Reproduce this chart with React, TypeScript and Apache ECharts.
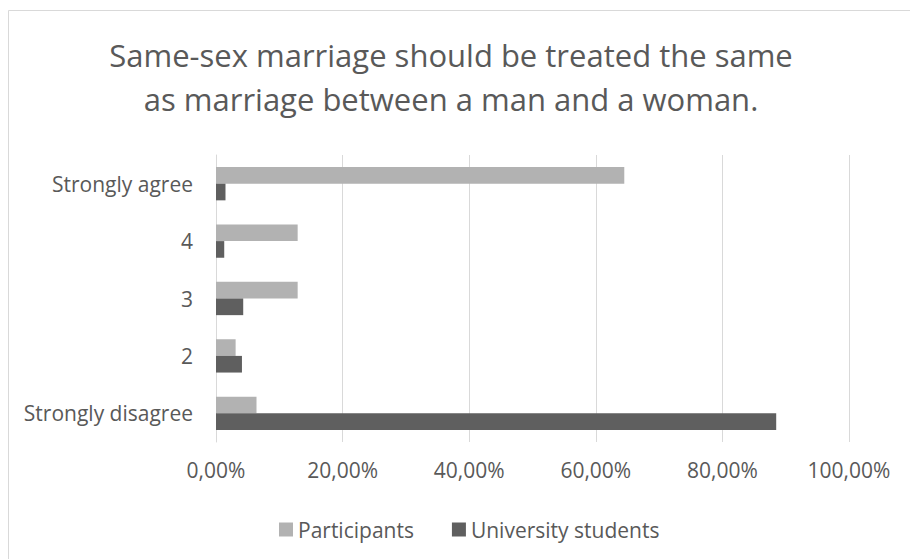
import React, { useEffect, useRef } from "react";
import * as echarts from "echarts";

const titleLines = [
  "Same-sex marriage should be treated the same",
  "as marriage between a man and a woman.",
];
const categories = ["Strongly disagree", "2", "3", "4", "Strongly agree"];
const participants = [6.4, 3.1, 12.9, 12.9, 64.5];
const universityStudents = [88.5, 4.1, 4.3, 1.3, 1.5];
const seriesNames = ["Participants", "University students"];
const xTicks = { min: 0, max: 100, interval: 20 };

const FONT = "'Open Sans', 'Liberation Sans', sans-serif";
const TEXT = "#595959";
const LIGHT = "#b2b2b2";
const DARK = "#5f5f5f";

export default function App() {
  const ref = useRef<HTMLDivElement>(null);
  useEffect(() => {
    if (!ref.current) return;
    const chart = echarts.init(ref.current, undefined, { renderer: "svg" });
    chart.setOption({
      animation: false,
      backgroundColor: "#ffffff",
      textStyle: { fontFamily: FONT },
      graphic: [
        {
          type: "rect",
          shape: { x: 8.5, y: 10.5, width: 1200, height: 1200 },
          style: { fill: "none", stroke: "#d9d9d9", lineWidth: 1 },
          silent: true,
          z: -1,
        },
        {
          type: "text",
          x: 451,
          y: 55,
          style: {
            text: titleLines[0],
            fontFamily: FONT,
            fontSize: 31,
            fill: TEXT,
            textAlign: "center",
            textVerticalAlign: "middle",
          },
        },
        {
          type: "text",
          x: 451,
          y: 99,
          style: {
            text: titleLines[1],
            fontFamily: FONT,
            fontSize: 31,
            fill: TEXT,
            textAlign: "center",
            textVerticalAlign: "middle",
          },
        },
      ],
      legend: {
        data: seriesNames,
        left: 274,
        top: 514,
        itemWidth: 14,
        itemHeight: 14,
        itemGap: 38,
        icon: "rect",
        textStyle: { color: TEXT, fontSize: 21, fontFamily: FONT },
      },
      grid: { left: 216, right: 61, top: 155, bottom: 117, containLabel: false },
      xAxis: {
        type: "value",
        min: xTicks.min,
        max: xTicks.max,
        interval: xTicks.interval,
        axisLine: { show: false },
        axisTick: { show: false },
        splitLine: { show: true, lineStyle: { color: "#d9d9d9", width: 1 } },
        axisLabel: {
          color: TEXT,
          fontSize: 21,
          fontFamily: FONT,
          margin: 17,
          formatter: (v: number) => v.toFixed(2).replace(".", ",") + "%",
        },
      },
      yAxis: {
        type: "category",
        data: categories,
        axisLine: { show: true, lineStyle: { color: "#d9d9d9", width: 1 } },
        axisTick: { show: false },
        axisLabel: { color: TEXT, fontSize: 21, fontFamily: FONT, margin: 23 },
      },
      series: [
        {
          name: seriesNames[0],
          type: "bar",
          data: participants,
          itemStyle: { color: LIGHT },
          barGap: "0%",
          barCategoryGap: "42%",
        },
        {
          name: seriesNames[1],
          type: "bar",
          data: universityStudents,
          itemStyle: { color: DARK },
          barGap: "0%",
          barCategoryGap: "42%",
        },
      ],
    });
    return () => chart.dispose();
  }, []);
  return (
    <div
      ref={ref}
      style={{ position: "fixed", left: 0, top: 0, width: 910, height: 559 }}
    />
  );
}
